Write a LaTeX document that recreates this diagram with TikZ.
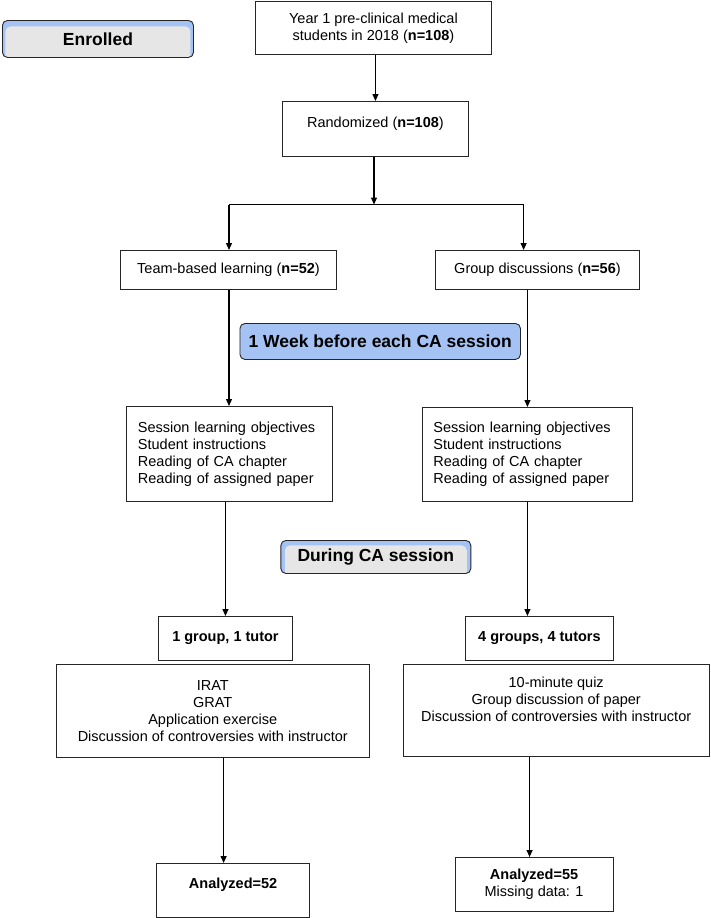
\documentclass[tikz,border=0pt]{standalone}
\usepackage{fontspec}
\setmainfont{Liberation Sans}
\usetikzlibrary{arrows.meta,calc}
\definecolor{lblue}{HTML}{A4C2F4}
\definecolor{lgray}{HTML}{E6E6E6}
\tikzset{
  box/.style={draw=black!85, line width=0.9pt, anchor=north west, inner sep=2pt,
    font=\fontsize{14.5}{17}\selectfont, align=center},
  listbox/.style={box, align=left, inner xsep=11pt},
  tag/.style={draw=black!85, line width=0.9pt, anchor=north west, rounded corners=5pt,
    fill=lblue, inner sep=0pt, font=\fontsize{17.5}{20}\selectfont\bfseries},
  graytag/.style={tag, path picture={\fill[lgray]
    ([shift={(#1)}]path picture bounding box.north west) rectangle
    ([shift={(-#1)}]path picture bounding box.south east);}},
  arr/.style={line width=1.2pt, -{Triangle[length=7pt,width=6pt]}},
  ln/.style={line width=1.2pt}
}
\begin{document}
\begin{tikzpicture}[x=1pt,y=-1pt]
\useasboundingbox (0,0) rectangle (711,918);
% tags
\node[graytag={3pt,-6pt}, minimum width=191pt, minimum height=37pt] (enr) at (2,20) {Enrolled};
\node[tag, minimum width=280.5pt, minimum height=36pt] (week) at (239.5,323) {1 Week before each CA session};
\node[graytag={4pt,-5pt}, minimum width=190pt, minimum height=33pt] (dur) at (280.4,540) {During CA session};
% boxes
\node[box, minimum width=236pt, minimum height=53pt] (year) at (255,1) {Year 1 pre-clinical medical\\students in 2018 (\textbf{n=108})};
\node[box, minimum width=186pt, minimum height=55pt, text depth=13pt] (rand) at (282,101) {Randomized (\textbf{n=108})};
\node[box, minimum width=216pt, minimum height=39pt] (team) at (120,250) {Team-based learning (\textbf{n=52})};
\node[box, minimum width=204pt, minimum height=39pt] (group) at (435,250) {Group discussions (\textbf{n=56})};
\node[listbox, text width=183pt, minimum width=206pt, minimum height=95pt] (L1) at (126,406) {Session learning objectives\\Student instructions\\Reading of CA chapter\\Reading of assigned paper};
\node[listbox, text width=188pt, minimum width=210pt, minimum height=94pt] (R1) at (422,407) {Session learning objectives\\Student instructions\\Reading of CA chapter\\Reading of assigned paper};
\node[box, minimum width=133.6pt, minimum height=44pt, font=\fontsize{14.5}{17}\selectfont\bfseries] (g1) at (158.2,616) {1 group, 1 tutor};
\node[box, minimum width=148pt, minimum height=44pt, font=\fontsize{14.5}{17}\selectfont\bfseries] (g4) at (465,616) {4 groups, 4 tutors};
\node[box, minimum width=312.6pt, minimum height=93pt] (L2) at (56,664) {IRAT\\GRAT\\Application exercise\\Discussion of controversies with instructor};
\node[box, minimum width=306.5pt, minimum height=92pt, text depth=22pt] (R2) at (402.5,664) {10-minute quiz\\Group discussion of paper\\Discussion of controversies with instructor};
\node[box, minimum width=152.5pt, minimum height=54pt, text depth=14pt] (A52) at (156.4,863) {\textbf{Analyzed=52}};
\node[box, minimum width=158pt, minimum height=54pt] (A55) at (454.6,857) {\textbf{Analyzed=55}\\Missing data: 1};
% connectors
\coordinate (split) at (374,204.5);
\coordinate (sl) at (229,204.5);
\coordinate (sr) at (523.6,204.5);
\draw[arr] (rand.north |- year.south) -- (rand.north);
\draw[arr] (split |- rand.south) -- (split);
\draw[ln] (sl) -- (sr);
\draw[arr] (sl) -- (sl |- team.north);
\draw[arr] (sr) -- (sr |- group.north);
\draw[arr] (sl |- team.south) -- (sl |- L1.north);
\draw[arr] (R1.north |- group.south) -- (R1.north);
\draw[arr] (g1.north |- L1.south) -- (g1.north);
\draw[arr] (R1.south) -- (R1.south |- g4.north);
\draw[arr] ([xshift=-9.5pt]A52.north |- L2.south) -- ([xshift=-9.5pt]A52.north);
\draw[arr] ([xshift=-4.5pt]A55.north |- R2.south) -- ([xshift=-4.5pt]A55.north);
\end{tikzpicture}
\end{document}
